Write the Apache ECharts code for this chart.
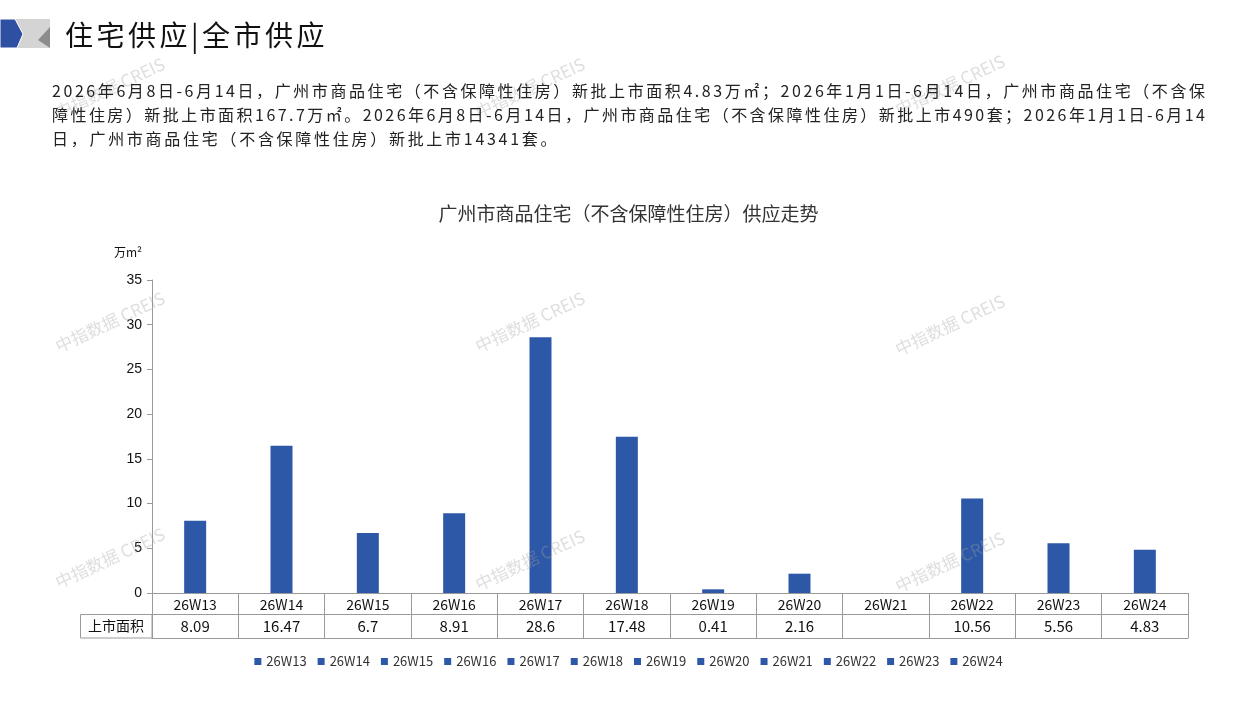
<!DOCTYPE html>
<html>
<head>
<meta charset="utf-8">
<script src="https://cdn.jsdelivr.net/npm/echarts@6/dist/echarts.min.js"></script>
<style>
  html, body { margin: 0; padding: 0; background: #fff; }
  #chart { position: absolute; left: 0; top: 0; width: 1257px; height: 706px; }
  .head { position: absolute; left: 65px; top: 14px; font: 28px "Noto Sans CJK SC"; color: #111; letter-spacing: 3.5px; line-height: 40px; }
  .para { position: absolute; left: 52px; font: 16px "Noto Sans CJK SC"; color: #222; line-height: 24px; white-space: nowrap; }
</style>
</head>
<body>
<div id="chart"></div>
<div class="head">住宅供应|全市供应</div>
<div class="para" id="p1" style="top:78px">2026年6月8日-6月14日，广州市商品住宅（不含保障性住房）新批上市面积4.83万㎡；2026年1月1日-6月14日，广州市商品住宅（不含保</div>
<div class="para" id="p2" style="top:102px">障性住房）新批上市面积167.7万㎡。2026年6月8日-6月14日，广州市商品住宅（不含保障性住房）新批上市490套；2026年1月1日-6月14</div>
<div class="para" id="p3" style="top:126px">日，广州市商品住宅（不含保障性住房）新批上市14341套。</div>
<script>
// 周次与上市面积（万㎡）
const weeks = ["26W13", "26W14", "26W15", "26W16", "26W17", "26W18",
  "26W19", "26W20", "26W21", "26W22", "26W23", "26W24"];
const areas = [8.09, 16.47, 6.7, 8.91, 28.6, 17.48, 0.41, 2.16, null, 10.56, 5.56, 4.83];
const yTicks = { min: 0, max: 35, interval: 5 };

const BLUE = "#2d58a8";
const LINE = "#9a9a9a";
const CJK = "Noto Sans CJK SC";

// 段落每行撑满到右边 1205px
const fitLine = (el, width) => {
  const n = el.textContent.length;
  const w = el.getBoundingClientRect().width;
  const ls = (width - w) / (n - 1);
  el.style.letterSpacing = ls + "px";
  return ls;
};
const ls1 = fitLine(document.getElementById("p1"), 1153);
const ls2 = fitLine(document.getElementById("p2"), 1153);
document.getElementById("p3").style.letterSpacing = ((ls1 + ls2) / 2 + 0.2) + "px";

const chart = echarts.init(document.getElementById("chart"));

const series = weeks.map((w, i) => ({
  name: w,
  type: "bar",
  stack: "all",
  barWidth: 22,
  itemStyle: { color: BLUE },
  data: weeks.map((_, j) => (j === i && areas[i] != null ? areas[i] : "-")),
}));

const catAxis = (extra) => Object.assign({
  type: "category",
  data: weeks,
  position: "bottom",
  axisLine: { show: true, lineStyle: { color: LINE, width: 1 } },
  axisTick: { show: false },
  axisLabel: { show: false },
}, extra);

const marks = [
  ["中指数据 CREIS", 110, 88], ["中指数据 CREIS", 530, 88], ["中指数据 CREIS", 950, 85],
  ["中指数据 CREIS", 110, 322], ["中指数据 CREIS", 530, 322], ["中指数据 CREIS", 950, 325],
  ["中指数据 CREIS", 110, 558], ["中指数据 CREIS", 530, 560], ["中指数据 CREIS", 950, 562],
];

chart.setOption({
  animation: false,
  backgroundColor: "#fff",
  textStyle: { fontFamily: CJK },
  title: {
    text: "广州市商品住宅（不含保障性住房）供应走势",
    left: "center",
    top: 199,
    textStyle: { fontSize: 19, fontWeight: "normal", color: "#333", fontFamily: CJK },
  },
  legend: {
    data: weeks,
    bottom: 33,
    left: "center",
    icon: "rect",
    itemWidth: 7,
    itemHeight: 7,
    itemGap: 11,
    textStyle: { fontSize: 13, color: "#333", fontFamily: CJK },
  },
  grid: { left: 152, right: 69, top: 280, bottom: 113 },
  xAxis: [
    catAxis({
      axisTick: { show: true, interval: 0, length: 21, lineStyle: { color: LINE } },
      axisLabel: { show: true, interval: 0, margin: 5, fontSize: 14, color: "#111", fontFamily: CJK },
    }),
    catAxis({
      offset: 21,
      axisTick: { show: true, interval: 0, length: 24, lineStyle: { color: LINE } },
      axisLabel: {
        show: true, interval: 0, margin: 5, fontSize: 15, color: "#111", fontFamily: CJK,
        formatter: (v, i) => (areas[i] == null ? "" : String(areas[i])),
      },
    }),
    catAxis({ offset: 45 }),
  ],
  yAxis: {
    type: "value",
    min: yTicks.min,
    max: yTicks.max,
    interval: yTicks.interval,
    axisLine: { show: true, lineStyle: { color: LINE } },
    axisTick: { show: true, length: 5, lineStyle: { color: LINE } },
    splitLine: { show: false },
    axisLabel: { margin: 10, fontSize: 14, color: "#111", fontFamily: "Liberation Sans" },
  },
  series,
  graphic: [
    // 左上角标识
    { type: "rect", shape: { x: 14, y: 19, width: 36, height: 29 }, style: { fill: "#d4d4d4" }, z: 1 },
    { type: "polygon", shape: { points: [[50, 27], [50, 48], [38, 40]] }, style: { fill: "#8c8c8c" }, z: 2 },
    { type: "polygon", shape: { points: [[0, 19], [15, 19], [23, 34], [17, 48], [0, 48]] }, style: { fill: "#2f4fa3", stroke: "#fff", lineWidth: 1 }, z: 3 },
    // 单位
    { type: "text", left: 114, top: 246, style: { text: "万m²", fontSize: 12, fill: "#111", fontFamily: CJK } },
    // 数据表左侧表头
    { type: "rect", shape: { x: 80.5, y: 614.5, width: 71.5, height: 23.5 }, style: { fill: "none", stroke: LINE, lineWidth: 1 } },
    { type: "text", x: 116, y: 626, style: { text: "上市面积", fontSize: 14, fill: "#111", fontFamily: CJK, align: "center", verticalAlign: "middle" } },
    // 水印
    ...marks.map(([t, x, y]) => ({
      type: "text", x, y, rotation: 0.44, z: 100,
      style: { text: t, fontSize: 17, fill: "rgba(160,160,160,0.35)", fontFamily: CJK, align: "center", verticalAlign: "middle" },
    })),
  ],
});
</script>
</body>
</html>
